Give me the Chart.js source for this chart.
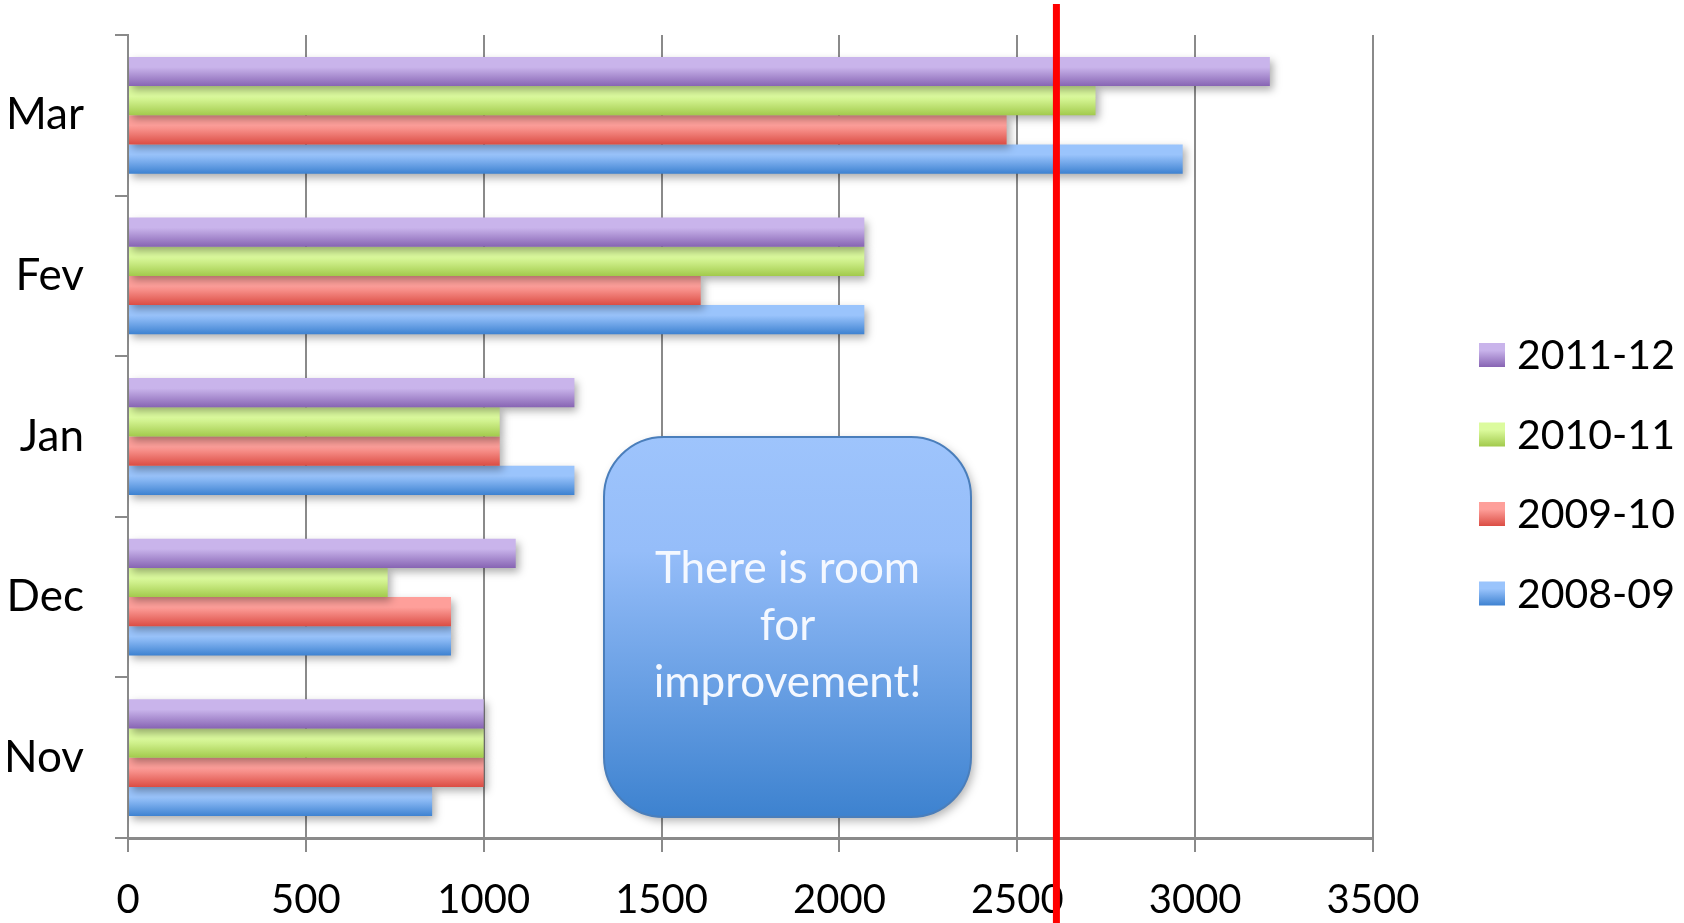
<!DOCTYPE html>
<html>
<head>
<meta charset="utf-8">
<title>Monthly totals by season</title>
<script src="https://cdn.jsdelivr.net/npm/chart.js@4/dist/chart.umd.min.js"></script>
<style>
  html, body { margin: 0; padding: 0; background: #fff; }
  #chartWrap { width: 1684px; height: 923px; }
</style>
</head>
<body>
<div id="chartWrap"><canvas id="seasonChart" width="1684" height="923"></canvas></div>
<script>
// ============== DATA ==============
const months = ['Mar', 'Fev', 'Jan', 'Dec', 'Nov'];
const seasons = ['2011-12', '2010-11', '2009-10', '2008-09'];
const values2011 = [3210, 2070, 1255, 1090, 1000];
const values2010 = [2720, 2070, 1045, 730, 1000];
const values2009 = [2470, 1610, 1045, 908, 1000];
const values2008 = [2965, 2070, 1255, 908, 855];
const xTicks = [0, 500, 1000, 1500, 2000, 2500, 3000, 3500];
const targetValue = 2610;
const noteLines = ['There is room', 'for', 'improvement!'];

// top / bottom colour of each bar gradient
const seasonColors = [
    ['#c9b4eb', '#8764b3'],
    ['#dcfb9e', '#a2ca4c'],
    ['#fe9f9a', '#db4d44'],
    ['#9ac4fc', '#3e82d1']
];

const FONT = 'Lato, "Open Sans", sans-serif';
const GRID = '#8a8a8a';

// Paint each bar with a vertical gradient (light on top, dark below)
const barGradient = {
    id: 'barGradient',
    beforeDatasetsDraw(chart) {
        const ctx = chart.ctx;
        chart.data.datasets.forEach((ds, i) => {
            const meta = chart.getDatasetMeta(i);
            const [top, bottom] = seasonColors[i];
            meta.data.forEach(bar => {
                const y0 = bar.y - bar.height / 2;
                const g = ctx.createLinearGradient(0, y0, 0, y0 + bar.height);
                g.addColorStop(0, top);
                g.addColorStop(0.35, top);
                g.addColorStop(1, bottom);
                bar.options.backgroundColor = g;
            });
        });
    }
};

// Soft drop shadow under the bars
const barShadow = {
    id: 'barShadow',
    beforeDatasetDraw(chart) {
        const ctx = chart.ctx;
        ctx.save();
        ctx.shadowColor = 'rgba(0,0,0,0.32)';
        ctx.shadowBlur = 8;
        ctx.shadowOffsetX = 3;
        ctx.shadowOffsetY = 4;
    },
    afterDatasetDraw(chart) {
        chart.ctx.restore();
    }
};

// Rounded note box, red target line and legend
const overlay = {
    id: 'overlay',
    afterDraw(chart) {
        const ctx = chart.ctx;

        // note box
        const bx = 604, by = 437, bw = 367, bh = 380, r = 60;
        ctx.save();
        ctx.beginPath();
        ctx.roundRect(bx, by, bw, bh, r);
        const g = ctx.createLinearGradient(0, by, 0, by + bh);
        g.addColorStop(0, '#9ec4fc');
        g.addColorStop(0.3, '#95bdf9');
        g.addColorStop(1, '#3d82cf');
        ctx.shadowColor = 'rgba(0,0,0,0.3)';
        ctx.shadowBlur = 10;
        ctx.shadowOffsetX = 3;
        ctx.shadowOffsetY = 4;
        ctx.fillStyle = g;
        ctx.fill();
        ctx.shadowColor = 'transparent';
        ctx.lineWidth = 2;
        ctx.strokeStyle = '#4a7ebb';
        ctx.stroke();
        ctx.fillStyle = '#f4f8ff';
        ctx.font = '44px ' + FONT;
        ctx.textAlign = 'center';
        ctx.textBaseline = 'alphabetic';
        noteLines.forEach((line, i) => {
            ctx.fillText(line, bx + bw / 2, 583 + i * 57);
        });
        ctx.restore();

        // red target line
        const x = chart.scales.x.getPixelForValue(targetValue);
        ctx.save();
        ctx.strokeStyle = '#ff0000';
        ctx.lineWidth = 7;
        ctx.beginPath();
        ctx.moveTo(x, 4);
        ctx.lineTo(x, chart.height);
        ctx.stroke();
        ctx.restore();

        // legend
        ctx.save();
        ctx.font = '41px ' + FONT;
        ctx.textAlign = 'left';
        ctx.textBaseline = 'middle';
        chart.data.datasets.forEach((ds, i) => {
            const cy = 355 + i * 79.5;
            const lg = ctx.createLinearGradient(0, cy - 12, 0, cy + 12);
            lg.addColorStop(0, seasonColors[i][0]);
            lg.addColorStop(0.3, seasonColors[i][0]);
            lg.addColorStop(1, seasonColors[i][1]);
            ctx.fillStyle = lg;
            ctx.fillRect(1479, cy - 12, 26, 24);
            ctx.fillStyle = '#000';
            ctx.fillText(ds.label, 1517, cy + 1);
        });
        ctx.restore();
    }
};

const seriesValues = [values2011, values2010, values2009, values2008];

new Chart(document.getElementById('seasonChart'), {
    type: 'bar',
    data: {
        labels: months,
        datasets: seasons.map((s, i) => ({
            label: s,
            data: seriesValues[i],
            backgroundColor: () => seasonColors[i][1],
            borderWidth: 0,
            categoryPercentage: 0.727,
            barPercentage: 1
        }))
    },
    options: {
        indexAxis: 'y',
        responsive: false,
        animation: false,
        layout: { padding: { top: 35, right: 311, bottom: 0, left: 0 } },
        plugins: {
            legend: { display: false },
            tooltip: { enabled: false }
        },
        scales: {
            x: {
                min: 0,
                max: 3500,
                afterBuildTicks: axis => { axis.ticks = xTicks.map(v => ({ value: v })); },
                afterFit: axis => {
                    axis.height = 85;
                    axis.paddingLeft = 0;
                    axis.paddingRight = 0;
                },
                grid: { color: GRID, lineWidth: 2, tickLength: 14 },
                border: { color: GRID, width: 3 },
                ticks: {
                    color: '#000',
                    padding: 24,
                    maxRotation: 0,
                    callback: v => String(v),
                    font: { family: FONT, size: 40, lineHeight: 1.2 }
                }
            },
            y: {
                afterFit: axis => {
                    axis.width = 128;
                    axis.paddingTop = 0;
                    axis.paddingBottom = 0;
                },
                grid: {
                    offset: true,
                    drawOnChartArea: false,
                    color: GRID,
                    lineWidth: 2,
                    tickLength: 13
                },
                border: { color: GRID, width: 2 },
                ticks: {
                    color: '#000',
                    padding: 31,
                    font: { family: FONT, size: 44 }
                }
            }
        }
    },
    plugins: [barGradient, barShadow, overlay]
});
</script>
</body>
</html>
